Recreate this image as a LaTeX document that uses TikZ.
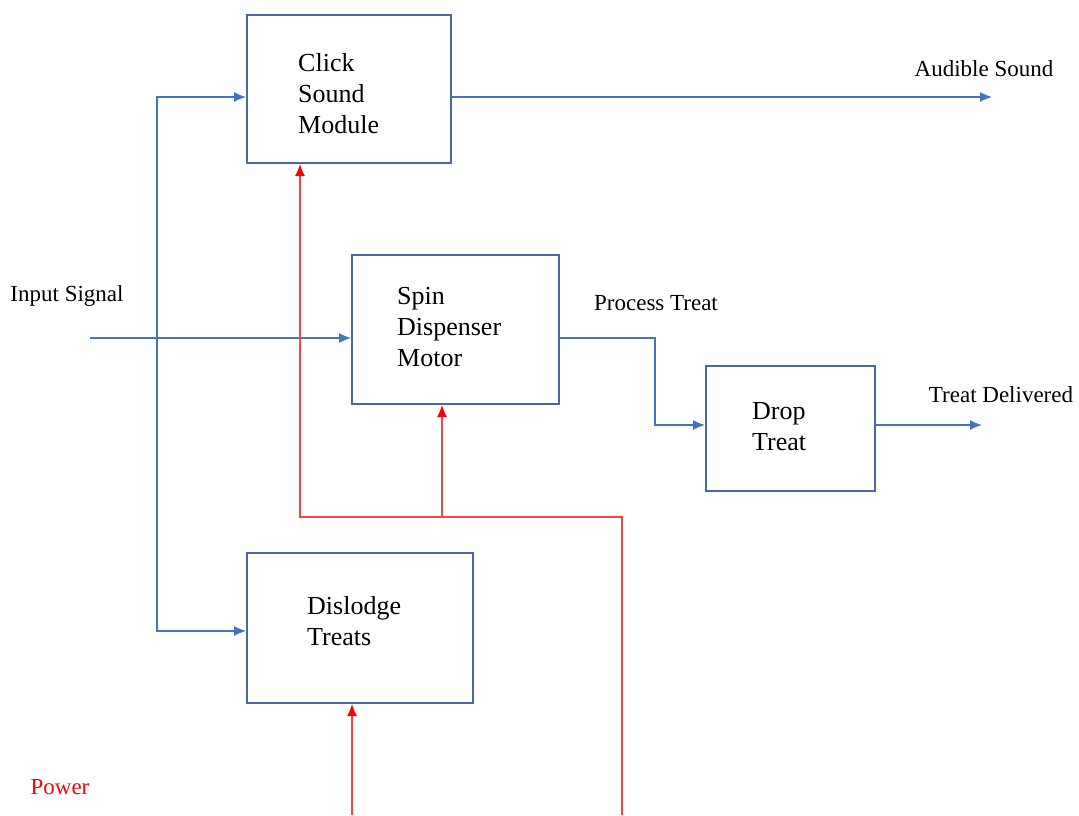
\documentclass[tikz,border=0pt]{standalone}
\usepackage{fontspec}
\setmainfont{Liberation Serif}
\usetikzlibrary{arrows.meta}
\definecolor{boxblue}{HTML}{4A68A8}
\definecolor{lineblue}{HTML}{4472C4}
\definecolor{pwr}{HTML}{FF4040}
\definecolor{pwrtip}{HTML}{FF0000}
\begin{document}
\begin{tikzpicture}[x=1pt,y=-1pt,
  blk/.style={draw=boxblue, line width=2pt, rectangle, inner sep=0pt},
  btxt/.style={font=\fontsize{26}{31}\selectfont, align=left, anchor=west, inner sep=0pt},
  lbl/.style={font=\fontsize{23}{27}\selectfont, inner sep=0pt},
  sig/.style={draw=lineblue, line width=1.2pt, -{Latex[length=12pt,width=10pt]}},
  pw/.style={draw=pwr, line width=1.2pt, -{Latex[length=12pt,width=10pt,color=pwrtip]}},
]
\useasboundingbox (0,0) rectangle (1079,815);

% blocks
\node[blk, minimum width=204pt, minimum height=148pt] (click) at (349,89) {};
\node[blk, minimum width=207pt, minimum height=149pt] (spin) at (455.5,329.5) {};
\node[blk, minimum width=169pt, minimum height=125pt] (drop) at (790.5,428.5) {};
\node[blk, minimum width=226pt, minimum height=150pt] (dis) at (360,628) {};

\node[btxt] (clickt) at (298,94) {Click\\Sound\\Module};
\node[btxt] (spint) at (397,327) {Spin\\Dispenser\\Motor};
\node[btxt] (dropt) at (752,426.5) {Drop\\Treat};
\node[btxt] (dist) at (307,621.5) {Dislodge\\Treats};

% labels
\node[lbl] (lin) at (67,296) {Input Signal};
\node[lbl] (laud) at (984,69) {Audible Sound};
\node[lbl] (lproc) at (656,303) {Process Treat};
\node[lbl] (ltd) at (1001,395) {Treat Delivered};
\node[lbl, text=pwrtip] (lpow) at (60,787) {Power};

% signal connectors
\coordinate (in) at (90,338);
\coordinate (j) at (157,338);
\coordinate (ct) at (157,97);
\coordinate (cb) at (157,631);
\coordinate (aud) at (992,97);
\coordinate (pt) at (655,425);
\coordinate (td) at (982,425);

\draw[sig] (in) -- (in -| spin.west);
\draw[sig] (j) -- (ct) -- (ct -| click.west);
\draw[sig] (j) -- (cb) -- (cb -| dis.west);
\draw[sig] (aud -| click.east) -- (aud);
\draw[sig] (spin.east |- in) -| (pt) -- (pt -| drop.west);
\draw[sig] (td -| drop.east) -- (td);

% power connectors
\coordinate (p1) at (622,815);
\coordinate (p2) at (622,517);
\coordinate (p3) at (300,517);
\coordinate (p4) at (442,517);
\coordinate (p5) at (352,815);
\draw[pw] (p1) -- (p2) -- (p3) -- (p3 |- click.south);
\draw[pw] (p4) -- (p4 |- spin.south);
\draw[pw] (p5) -- (p5 |- dis.south);
\end{tikzpicture}
\end{document}
